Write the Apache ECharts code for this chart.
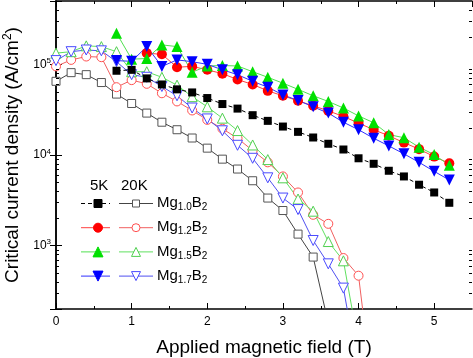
<!DOCTYPE html>
<html><head><meta charset="utf-8">
<script src="https://cdn.jsdelivr.net/npm/echarts@6/dist/echarts.min.js"></script>
<style>html,body{margin:0;padding:0;background:#fff}#c{width:473px;height:358px}</style>
</head><body><div id="c"></div>
<script>
// ---- data (field in T, Jc in A/cm^2) ----
const fields5K = [0.8,1.0,1.2,1.4,1.6,1.8,2.0,2.2,2.4,2.6,2.8,3.0,3.2,3.4,3.6,3.8,4.0,4.2,4.4,4.6,4.8,5.0,5.2];
const fields5KMg12 = [1.2,1.4,1.6,1.8,2.0,2.2,2.4,2.6,2.8,3.0,3.2,3.4,3.6,3.8,4.0,4.2,4.4,4.6,4.8,5.0,5.2];
const fields20KMg10 = [0,0.2,0.4,0.6,0.8,1.0,1.2,1.4,1.6,1.8,2.0,2.2,2.4,2.6,2.8,3.0,3.2,3.4,3.6];
const fields20KMg12 = [0,0.2,0.4,0.6,0.8,1.0,1.2,1.4,1.6,1.8,2.0,2.2,2.4,2.6,2.8,3.0,3.2,3.4,3.6,3.8,4.0,4.2];
const fields20KMg15 = [0,0.2,0.4,0.6,0.8,1.0,1.2,1.4,1.6,1.8,2.0,2.2,2.4,2.6,2.8,3.0,3.2,3.4,3.6,3.8,4.0];
const fields20KMg17 = [0,0.2,0.4,0.6,0.8,1.0,1.2,1.4,1.6,1.8,2.0,2.2,2.4,2.6,2.8,3.0,3.2,3.4,3.6,3.8,4.0];

const jc5KMg10 = [85000,87000,70000,60000,53000,49000,42500,36500,32500,27500,23800,20600,18000,15600,13300,11500,9200,8000,6700,5800,4700,3860,2970];
const jc5KMg12 = [133000,129000,93000,95000,87000,79000,68000,60000,51000,45000,39600,34900,30700,26600,22500,19000,16300,13700,11600,9600,8100];
const jc5KMg15 = [221000,114000,116000,164000,157000,82000,96000,97000,96000,83000,72000,62000,53000,45000,39000,33000,27000,22700,16800,15500,12200,10100,7700];
const jc5KMg17 = [110000,108000,157000,95000,112000,107000,100000,87000,77000,65000,56000,46000,40000,34000,29000,23000,19000,15300,12600,10300,8300,6600,5300];

const jc20KMg10 = [65000,81000,77000,63000,47000,37000,29000,23000,19000,15400,11900,9000,7000,5200,3350,2440,1340,748,140];
const jc20KMg12 = [95000,112000,122000,120000,56000,67000,61000,48000,39000,31000,24400,19500,15300,11200,8300,5800,3860,2190,1740,730,466,20];
const jc20KMg15 = [133000,138000,160000,157000,138000,83000,83000,72000,59000,44000,34000,25500,18600,12900,8900,5600,3270,2400,1110,680,80];
const jc20KMg17 = [110000,138000,144000,141000,107000,77000,72000,57000,45000,33000,25000,18500,12800,9200,5600,3350,2500,1140,630,340,40];

const legendHeader = ['5K', '20K'];
const legendCompositions = ['1.0', '1.2', '1.5', '1.7'];
const xTitle = 'Applied magnetic field (T)';
const yTitle = 'Critical current density (A/cm{sup|2})';
const yMinorTicks = [300,400,500,600,700,800,900,2000,3000,4000,5000,6000,7000,8000,9000,20000,30000,40000,50000,60000,70000,80000,90000,200000,300000,400000];
const xMinorTicks = [0.5,1.5,2.5,3.5,4.5];

const FONT = 'Liberation Sans, Arial, Helvetica, sans-serif';
const zip = (xs, ys) => xs.map((x, i) => [x, ys[i]]);

const styles = [
  {c5: '#000000', l5: '#000000', c20: '#555555', l20: '#444444', sym: 'rect', s5: 8, s20: 8, rot: 0},
  {c5: '#ff0000', l5: '#ff4040', c20: '#ff5050', l20: '#f06060', sym: 'circle', s5: 10, s20: 9, rot: 0},
  {c5: '#00e000', l5: '#50e050', c20: '#50d050', l20: '#60e060', sym: 'triangle', s5: 11, s20: 10, rot: 0},
  {c5: '#0000ff', l5: '#3030ff', c20: '#4a4aff', l20: '#5050f0', sym: 'triangle', s5: 11, s20: 10, rot: 180}
];
const data5K = [zip(fields5K, jc5KMg10), zip(fields5KMg12, jc5KMg12), zip(fields5K, jc5KMg15), zip(fields5K, jc5KMg17)];
const data20K = [zip(fields20KMg10, jc20KMg10), zip(fields20KMg12, jc20KMg12), zip(fields20KMg15, jc20KMg15), zip(fields20KMg17, jc20KMg17)];

const series = [];
data20K.forEach((d, i) => {
  const s = styles[i];
  series.push({
    type: 'line', name: '20K Mg' + legendCompositions[i], data: d, clip: true,
    symbol: s.sym, symbolSize: s.s20, symbolRotate: s.rot, z: 2,
    lineStyle: {color: s.l20, width: 1},
    itemStyle: {color: '#ffffff', borderColor: s.c20, borderWidth: 1},
    emphasis: {disabled: true}, animation: false
  });
});
data5K.forEach((d, i) => {
  const s = styles[i];
  series.push({
    type: 'line', name: '5K Mg' + legendCompositions[i], data: d, clip: true,
    symbol: s.sym, symbolSize: s.s5, symbolRotate: s.rot, z: 3,
    lineStyle: {color: s.l5, width: 1, type: i === 0 ? [4, 3] : 'solid'},
    itemStyle: {color: s.c5, borderWidth: 0},
    emphasis: {disabled: true}, animation: false
  });
});
// minor ticks (log-decade and half-tesla), drawn through the axes
series.push({
  type: 'custom', silent: true, animation: false, z: 5, clip: false,
  data: yMinorTicks.map(v => [1, v]),
  renderItem: (params, api) => {
    const cs = params.coordSys;
    const y = Math.round(api.coord([1, api.value(1)])[1]) + 0.5;
    const st = {stroke: '#000', lineWidth: 1};
    return {type: 'group', children: [
      {type: 'line', shape: {x1: cs.x, y1: y, x2: cs.x + 3, y2: y}, style: st},
      {type: 'line', shape: {x1: cs.x + cs.width, y1: y, x2: cs.x + cs.width - 3, y2: y}, style: st}
    ]};
  }
});
series.push({
  type: 'custom', silent: true, animation: false, z: 5, clip: false,
  data: xMinorTicks.map(v => [v, 1000]),
  renderItem: (params, api) => {
    const cs = params.coordSys;
    const x = Math.round(api.coord([api.value(0), 1000])[0]) + 0.5;
    const st = {stroke: '#000', lineWidth: 1};
    return {type: 'group', children: [
      {type: 'line', shape: {x1: x, y1: cs.y + cs.height, x2: x, y2: cs.y + cs.height - 3}, style: st},
      {type: 'line', shape: {x1: x, y1: cs.y, x2: x, y2: cs.y + 3}, style: st}
    ]};
  }
});

// legend drawn as graphics
const graphic = [];
graphic.push({type: 'text', x: 90, y: 186, style: {text: legendHeader[0], font: '15px ' + FONT, fill: '#000', verticalAlign: 'middle'}});
graphic.push({type: 'text', x: 121, y: 186, style: {text: legendHeader[1], font: '15px ' + FONT, fill: '#000', verticalAlign: 'middle'}});
function symbolShape(kind, rot, cx, cy, size, fill, stroke) {
  const h = size / 2;
  if (kind === 'rect') return {type: 'rect', shape: {x: cx - h, y: cy - h, width: size, height: size}, style: {fill, stroke, lineWidth: 1}, z: 20};
  if (kind === 'circle') return {type: 'circle', shape: {cx, cy, r: h}, style: {fill, stroke, lineWidth: 1}, z: 20};
  const pts = rot ? [[cx - h, cy - h], [cx + h, cy - h], [cx, cy + h]] : [[cx - h, cy + h], [cx + h, cy + h], [cx, cy - h]];
  return {type: 'polygon', shape: {points: pts}, style: {fill, stroke, lineWidth: 1}, z: 20};
}
legendCompositions.forEach((comp, i) => {
  const s = styles[i];
  const y = 203.5 + 24.2 * i;
  graphic.push({type: 'line', shape: {x1: 81, y1: y, x2: 110, y2: y}, style: {stroke: s.l5, lineWidth: 1, lineDash: i === 0 ? [4, 3] : null}, z: 10});
  graphic.push({type: 'line', shape: {x1: 119, y1: y, x2: 153, y2: y}, style: {stroke: s.l20, lineWidth: 1}, z: 10});
  graphic.push(symbolShape(s.sym, s.rot, 98, y, s.s5 - (s.sym === 'rect' ? 0 : 1), s.c5, s.c5));
  graphic.push(symbolShape(s.sym, s.rot, 136, y, s.s20 - 1, '#fff', s.c20));
  graphic.push({type: 'text', x: 157, y: y - 8, z: 20, style: {
    text: '{m|Mg}{sub|' + comp + '}{m|B}{sub|2}', fill: '#000',
    rich: {m: {fontSize: 15, fontFamily: FONT, lineHeight: 17, verticalAlign: 'top'},
           sub: {fontSize: 10, fontFamily: FONT, lineHeight: 17, verticalAlign: 'bottom', padding: [8, 0, 0, 0]}}
  }});
});

const axisCommon = {
  axisLine: {lineStyle: {color: '#000', width: 1.5}},
  splitLine: {show: false}
};
const option = {
  backgroundColor: '#ffffff',
  animation: false,
  grid: {left: 56, right: 1, top: 1, bottom: 49, containLabel: false, outerBoundsMode: 'none'},
  xAxis: [
    Object.assign({
      type: 'value', min: 0, max: 5.5, interval: 1, position: 'bottom',
      axisTick: {inside: true, length: 6, lineStyle: {color: '#000', width: 1}},
      axisLabel: {fontSize: 12, color: '#000', fontFamily: FONT, margin: 7, showMaxLabel: false,
        formatter: v => Number.isInteger(v) ? String(v) : ''},
      name: xTitle, nameLocation: 'middle', nameGap: 29,
      nameTextStyle: {fontSize: 19, color: '#000', fontFamily: FONT}
    }, axisCommon),
    Object.assign({
      type: 'value', min: 0, max: 5.5, interval: 1, position: 'top',
      axisTick: {inside: true, length: 6, lineStyle: {color: '#000', width: 1}},
      axisLabel: {show: false}
    }, axisCommon)
  ],
  yAxis: [
    Object.assign({
      type: 'log', logBase: 10, min: 200, max: 500000, position: 'left',
      axisTick: {inside: true, length: 6, lineStyle: {color: '#000', width: 1}},
      axisLabel: {color: '#000', margin: 5,
        formatter: v => {
          const e = Math.round(Math.log10(v));
          if (Math.abs(v - Math.pow(10, e)) > 1e-6 * v) return '';
          return '{b|10}{s|' + e + '}';
        },
        rich: {b: {fontSize: 12, fontFamily: FONT, color: '#000'},
               s: {fontSize: 8, fontFamily: FONT, color: '#000', padding: [0, 0, 7, 0]}}},
      name: yTitle, nameLocation: 'middle', nameGap: 33,
      nameTextStyle: {fontSize: 19, color: '#000', fontFamily: FONT,
        rich: {sup: {fontSize: 12, fontFamily: FONT, color: '#000', padding: [0, 0, 9, 0]}}}
    }, axisCommon),
    Object.assign({
      type: 'log', logBase: 10, min: 200, max: 500000, position: 'right',
      axisTick: {inside: true, length: 6, lineStyle: {color: '#000', width: 1}},
      axisLabel: {show: false}
    }, axisCommon)
  ],
  series,
  graphic
};
const chart = echarts.init(document.getElementById('c'), null, {renderer: 'canvas'});
chart.setOption(option);
</script>
</body></html>
